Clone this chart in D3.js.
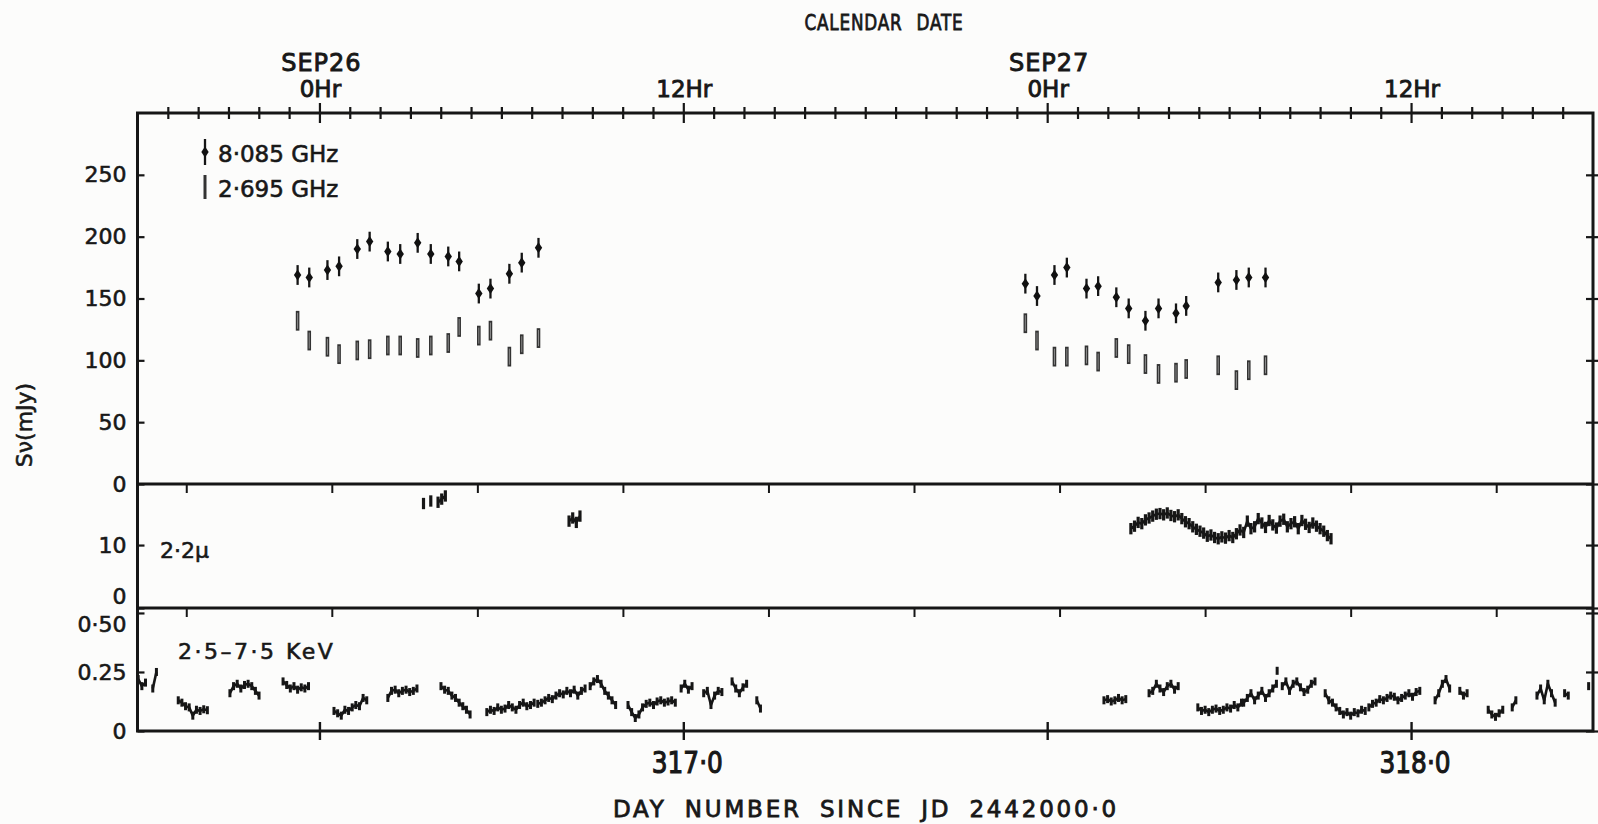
<!DOCTYPE html>
<html>
<head>
<meta charset="utf-8">
<script src="https://cdn.jsdelivr.net/npm/d3@7"></script>
<style>
  body { margin: 0; background: #fcfcfb; }
  svg text { font-family: "DejaVu Sans", sans-serif; fill: #181818; stroke: #181818; stroke-width: 0.6; }
  .frame line, .frame rect { stroke: #161616; }
  .tick line { stroke: #161616; }
</style>
</head>
<body>
<svg id="chart" width="1598" height="824"></svg>
<script>
// day number since JD 2442000.0 (x axis)
const dayDomain = [316.25, 318.25];

// radio flux densities (mJy)
const radioDays = [316.470, 316.486, 316.511, 316.527, 316.552, 316.569, 316.594, 316.611, 316.635,
  316.653, 316.677, 316.692, 316.719, 316.735, 316.761, 316.778, 316.801,
  317.470, 317.486, 317.510, 317.527, 317.554, 317.570, 317.595, 317.612, 317.635,
  317.653, 317.677, 317.691, 317.735, 317.760, 317.777, 317.800];
const flux8085 = [169, 167, 173, 176, 190, 196, 188, 186, 195, 186, 184, 180, 154, 158, 170, 179, 191,
  162, 152, 169, 175, 158, 160, 151, 142, 132, 142, 138, 144, 163, 165, 167, 167];
const flux2695 = [132, 116, 111, 105, 108, 109, 112, 112, 110, 112, 114, 127, 120, 124, 103, 113, 118,
  130, 116, 103, 103, 104, 99, 110, 105, 97, 89, 90, 93, 96, 84, 92, 96];
const err8085 = 8;
const err2695 = 8;

// calendar (top) axis
const calendarTicks = [316.5, 317.0, 317.5, 318.0];
const calendarDates = ["SEP26", "", "SEP27", ""];
const calendarHours = ["0Hr", "12Hr", "0Hr", "12Hr"];

// day number (bottom) axis
const dayTicks = [316.5, 317.0, 317.5, 318.0];
const dayLabels = ["", "317·0", "", "318·0"];

// small ticks on the panel separators
const panelTicks = [316.317, 316.517, 316.717, 316.917, 317.117, 317.317, 317.517, 317.717, 317.917, 318.117];

// y ticks
const radioTicks = [0, 50, 100, 150, 200, 250];
const irTicks = [10, 0];
const irTickLabels = ["10", "0"];
const xrayTicks = [0.5, 0.25, 0];
const xrayTickLabels = ["0·50", "0.25", "0"];

// 2.2 micron and X-ray runs: start day + samples every sampleStep day (null = gap)
const sampleStep = 0.005;
const irRuns = [
  { t0: 316.643, v: [16.6, null, 17.0, null, 16.8, 17.3, 17.8] },
  { t0: 316.843, v: [13.8, 14.3, 13.6, 14.6] },
  { t0: 317.615, v: [12.6, 13.0, 13.6, 13.4, 14.0, 14.3, 14.6, 14.9,
                     15.0, 14.8, 15.1, 14.7, 14.5, 14.8, 14.2, 13.7,
                     13.4, 12.9, 12.5, 12.2, 11.9, 11.4, 11.6, 11.2,
                     11.0, 11.3, 11.1, 11.5, 11.2, 11.8, 12.4, 12.0,
                     13.8, 12.6, 12.9, 14.2, 13.5, 12.8, 13.9, 13.2,
                     12.7, 13.8, 14.1, 12.9, 13.4, 13.7, 12.6, 13.9,
                     13.3, 12.8, 13.5, 13.0, 12.6, 12.2, 11.5, 11.0] }
];
const xrayRuns = [
  { t0: 316.251, v: [0.22, 0.19, 0.205] },
  { t0: 316.271, v: [0.18, 0.25] },
  { t0: 316.306, v: [0.13, 0.12, 0.105, 0.1, 0.065, 0.09, 0.085, 0.092, 0.088] },
  { t0: 316.377, v: [0.16, 0.19, 0.2, 0.18, 0.195, 0.2, 0.19, 0.17, 0.15] },
  { t0: 316.450, v: [0.21, 0.195, 0.18, 0.19, 0.175, 0.185, 0.18, 0.19] },
  { t0: 316.520, v: [0.085, 0.075, 0.065, 0.09, 0.085, 0.1, 0.11, 0.105, 0.14, 0.13] },
  { t0: 316.594, v: [0.14, 0.17, 0.175, 0.16, 0.17, 0.175, 0.165, 0.17, 0.18] },
  { t0: 316.667, v: [0.19, 0.175, 0.17, 0.15, 0.14, 0.12, 0.105, 0.09, 0.07] },
  { t0: 316.730, v: [0.08, 0.09, 0.085, 0.1, 0.09, 0.095, 0.11, 0.1, 0.09, 0.11, 0.12, 0.105, 0.11, 0.12] },
  { t0: 316.800, v: [0.115, 0.12, 0.13, 0.14, 0.135, 0.15, 0.16, 0.155, 0.17, 0.16, 0.175, 0.15, 0.17, 0.18] },
  { t0: 316.872, v: [0.19, 0.21, 0.22, 0.2, 0.17, 0.15, 0.13, 0.11] },
  { t0: 316.924, v: [0.11, 0.08, 0.055, 0.07, 0.1, 0.115, 0.12, 0.11, 0.125, 0.13, 0.12, 0.125, 0.13, 0.12] },
  { t0: 316.997, v: [0.18, 0.2, 0.175, 0.19] },
  { t0: 317.028, v: [0.16, 0.17, 0.11, 0.15, 0.17, 0.165] },
  { t0: 317.067, v: [0.21, 0.18, 0.16, 0.185, 0.2] },
  { t0: 317.101, v: [0.13, 0.095] },
  { t0: 317.578, v: [0.13, 0.135, 0.125, 0.13, 0.14, 0.13, 0.135] },
  { t0: 317.640, v: [0.16, 0.17, 0.2, 0.18, 0.165, 0.19, 0.2, 0.175, 0.19] },
  { t0: 317.707, v: [0.1, 0.085, 0.09, 0.08, 0.09, 0.095, 0.085, 0.09, 0.1, 0.095, 0.11, 0.1, 0.12] },
  { t0: 317.770, v: [0.12, 0.14, 0.16, 0.13, 0.15, 0.17, 0.14, 0.16, 0.18, 0.2] },
  { t0: 317.816, v: [0.255] },
  { t0: 317.823, v: [0.19, 0.21, 0.17, 0.2, 0.21, 0.185, 0.165, 0.175, 0.2, 0.21] },
  { t0: 317.882, v: [0.16, 0.13, 0.12, 0.1, 0.085, 0.07, 0.08, 0.065, 0.08, 0.075, 0.09, 0.085] },
  { t0: 317.942, v: [0.1, 0.115, 0.12, 0.135, 0.13, 0.14, 0.15, 0.145, 0.13, 0.14, 0.15, 0.16, 0.145, 0.165, 0.17] },
  { t0: 318.033, v: [0.13, 0.16, 0.2, 0.22, 0.18] },
  { t0: 318.067, v: [0.17, 0.15, 0.16] },
  { t0: 318.106, v: [0.09, 0.07, 0.06, 0.075, 0.09] },
  { t0: 318.139, v: [0.1, 0.13] },
  { t0: 318.173, v: [0.15, 0.18, 0.13, 0.2, 0.16, 0.12] },
  { t0: 318.211, v: [0.16, 0.15] },
  { t0: 318.244, v: [0.19] }
];

const svg = d3.select("svg#chart");
const plotLeft = 137.5, plotRight = 1593, plotTop = 113, plotBottom = 731;

const x = d3.scaleLinear().domain(dayDomain).range([plotLeft, plotRight]);
const yRadio = d3.scaleLinear().domain([0, 300]).range([484, plotTop]);
const yIR = d3.scaleLinear().domain([0, 19.7]).range([608, 484]);
const yXray = d3.scaleLinear().domain([0, 0.521]).range([plotBottom, 608]);

// frame and panel separators
const frame = svg.append("g").attr("class", "frame");
frame.append("rect").attr("x", plotLeft).attr("y", plotTop)
  .attr("width", plotRight - plotLeft).attr("height", plotBottom - plotTop)
  .attr("fill", "none").attr("stroke-width", 3);
[yRadio(0), yIR(0)].forEach(function(yy) {
  frame.append("line").attr("x1", plotLeft).attr("x2", plotRight).attr("y1", yy).attr("y2", yy).attr("stroke-width", 3);
});

// top calendar axis, hourly ticks crossing the frame
const hourTicks = d3.range(1, 48).map(h => dayDomain[0] + h / 24);
const isMajor = d => Math.abs(d * 2 - Math.round(d * 2)) < 1e-6;
const topAxis = svg.append("g").attr("transform", translate(0, plotTop))
  .call(d3.axisTop(x).tickValues(hourTicks).tickFormat("").tickSizeOuter(0));
topAxis.select(".domain").remove();
topAxis.selectAll(".tick line")
  .attr("y1", d => isMajor(d) ? 10 : 6)
  .attr("y2", d => isMajor(d) ? -10 : -6)
  .attr("stroke-width", 2.2);

const calLabels = svg.append("g").attr("class", "calendar");
calLabels.selectAll("text.date").data(calendarTicks).enter().append("text")
  .attr("class", "date").attr("x", d => x(d) + 2).attr("y", 71)
  .attr("text-anchor", "middle").style("font-size", "24px").style("letter-spacing", "1px")
  .style("stroke-width", "0.9px")
  .text((d, i) => calendarDates[i]);
calLabels.selectAll("text.hour").data(calendarTicks).enter().append("text")
  .attr("class", "hour").attr("x", d => x(d) + 1).attr("y", 97)
  .attr("text-anchor", "middle").style("font-size", "23px").style("stroke-width", "0.9px")
  .text((d, i) => calendarHours[i]);

svg.append("text").attr("transform", translate(884, 30) + " scale(0.8,1)").attr("text-anchor", "middle")
  .style("font-size", "21px").style("letter-spacing", "1px").style("word-spacing", "10px")
  .style("stroke-width", "0.8px")
  .text("CALENDAR DATE");

// small ticks under the radio panel and under the 2.2 micron panel
[yRadio(0), yIR(0)].forEach(function(yy) {
  const g = svg.append("g").attr("transform", translate(0, yy))
    .call(d3.axisBottom(x).tickValues(panelTicks).tickFormat("").tickSize(9).tickSizeOuter(0));
  g.select(".domain").remove();
  g.selectAll(".tick line").attr("stroke-width", 2);
});

// bottom day-number axis
const bottomAxis = svg.append("g").attr("transform", translate(0, plotBottom))
  .call(d3.axisBottom(x).tickValues(dayTicks).tickFormat("").tickSizeOuter(0));
bottomAxis.select(".domain").remove();
bottomAxis.selectAll(".tick line").attr("y1", -9).attr("y2", 9).attr("stroke-width", 2.4);
svg.append("g").selectAll("text").data(dayTicks).enter().append("text")
  .attr("transform", d => translate(x(d) + 4, 773) + " scale(0.8,1)")
  .attr("text-anchor", "middle").style("font-size", "31px").style("stroke-width", "1.2px")
  .text((d, i) => dayLabels[i]);
svg.append("text").attr("x", 866).attr("y", 817).attr("text-anchor", "middle")
  .style("font-size", "23px").style("letter-spacing", "2.8px").style("word-spacing", "8px")
  .style("stroke-width", "0.8px")
  .text("DAY NUMBER SINCE JD 2442000·0");

// left and right axes of each panel
function sideAxes(scale, ticks, labels) {
  const la = svg.append("g").attr("transform", translate(plotLeft, 0))
    .call(d3.axisLeft(scale).tickValues(ticks).tickFormat((d, i) => labels[i]).tickSize(7).tickPadding(4).tickSizeOuter(0));
  la.select(".domain").remove();
  la.selectAll(".tick line").attr("x2", 7).attr("stroke-width", 2.2);
  la.selectAll(".tick text").style("font-size", "22px").attr("fill", null)
    .style("font-family", "DejaVu Sans, sans-serif");
  const ra = svg.append("g").attr("transform", translate(plotRight, 0))
    .call(d3.axisRight(scale).tickValues(ticks).tickFormat("").tickSize(7).tickSizeOuter(0));
  ra.select(".domain").remove();
  ra.selectAll(".tick line").attr("x2", -7).attr("x1", 5).attr("stroke-width", 2.2);
  return la;
}
sideAxes(yRadio, radioTicks, radioTicks.map(String));
const irAxis = sideAxes(yIR, irTicks, irTickLabels);
irAxis.selectAll(".tick text").filter(d => d === 0).attr("dy", "-0.2em");
const xrAxis = sideAxes(yXray, xrayTicks, xrayTickLabels);
xrAxis.selectAll(".tick text").filter(d => d === 0.5).attr("dy", "0.85em");

svg.append("text").attr("transform", translate(32, 425) + " rotate(-90)")
  .attr("text-anchor", "middle").style("font-size", "22px").text("Sν(mJy)");

// radio data
const radio = radioDays.map((d, i) => ({ day: d, f8: flux8085[i], f2: flux2695[i] }));
const gRadio = svg.append("g").attr("class", "radio");
gRadio.selectAll("line.low").data(radio).enter().append("line").attr("class", "low")
  .attr("x1", d => x(d.day)).attr("x2", d => x(d.day))
  .attr("y1", d => yRadio(d.f2 - err2695)).attr("y2", d => yRadio(d.f2 + err2695))
  .attr("stroke", "#333").attr("stroke-width", 3.6);
gRadio.selectAll("line.lowcore").data(radio).enter().append("line").attr("class", "lowcore")
  .attr("x1", d => x(d.day)).attr("x2", d => x(d.day))
  .attr("y1", d => yRadio(d.f2 - err2695 + 1.5)).attr("y2", d => yRadio(d.f2 + err2695 - 1.5))
  .attr("stroke", "#8a8a8a").attr("stroke-width", 1);
gRadio.selectAll("line.high").data(radio).enter().append("line").attr("class", "high")
  .attr("x1", d => x(d.day)).attr("x2", d => x(d.day))
  .attr("y1", d => yRadio(d.f8 - err8085)).attr("y2", d => yRadio(d.f8 + err8085))
  .attr("stroke", "#151515").attr("stroke-width", 2.3);
const diamond = "M0,-5.5L3.7,0L0,5.5L-3.7,0Z";
gRadio.selectAll("path.high").data(radio).enter().append("path").attr("class", "high")
  .attr("d", diamond).attr("transform", d => translate(x(d.day), yRadio(d.f8)))
  .attr("fill", "#111");

// legend
const legend = svg.append("g").attr("class", "legend");
legend.append("line").attr("x1", 205).attr("x2", 205).attr("y1", 139).attr("y2", 165)
  .attr("stroke", "#151515").attr("stroke-width", 2.3);
legend.append("path").attr("d", diamond).attr("transform", translate(205, 152)).attr("fill", "#111");
legend.append("line").attr("x1", 205).attr("x2", 205).attr("y1", 175).attr("y2", 199)
  .attr("stroke", "#333").attr("stroke-width", 3);
legend.append("text").attr("x", 218).attr("y", 162).style("font-size", "23px").text("8·085 GHz");
legend.append("text").attr("x", 218).attr("y", 197).style("font-size", "23px").text("2·695 GHz");

// runs of samples -> points (gaps kept as null)
function runPoints(run) {
  return run.v.map((v, i) => ({ day: run.t0 + i * sampleStep, v: v }));
}

function drawRuns(runs, scale, half, lineW, tickW, cls) {
  const g = svg.append("g").attr("class", cls);
  const line = d3.line().defined(p => p.v !== null).x(p => x(p.day)).y(p => scale(p.v));
  runs.forEach(function(run) {
    const pts = runPoints(run);
    g.append("path").datum(pts).attr("d", line).attr("fill", "none")
      .attr("stroke", "#161616").attr("stroke-width", lineW).attr("stroke-linejoin", "round");
    g.selectAll(null).data(pts.filter(p => p.v !== null)).enter().append("line")
      .attr("x1", p => x(p.day)).attr("x2", p => x(p.day))
      .attr("y1", p => scale(p.v - half)).attr("y2", p => scale(p.v + half))
      .attr("stroke", "#161616").attr("stroke-width", tickW);
  });
}
drawRuns(irRuns, yIR, 0.9, 2.6, 3.2, "ir");
drawRuns(xrayRuns, yXray, 0.017, 2.6, 3.0, "xray");

svg.append("text").attr("x", 160).attr("y", 558).style("font-size", "22px").text("2·2μ");
svg.append("text").attr("x", 178).attr("y", 659).style("font-size", "22px")
  .style("letter-spacing", "2.5px").text("2·5–7·5 KeV");

function translate(x, y) {
  return "translate(" + String(x) + "," + String(y) + ")";
}
</script>
</body>
</html>
